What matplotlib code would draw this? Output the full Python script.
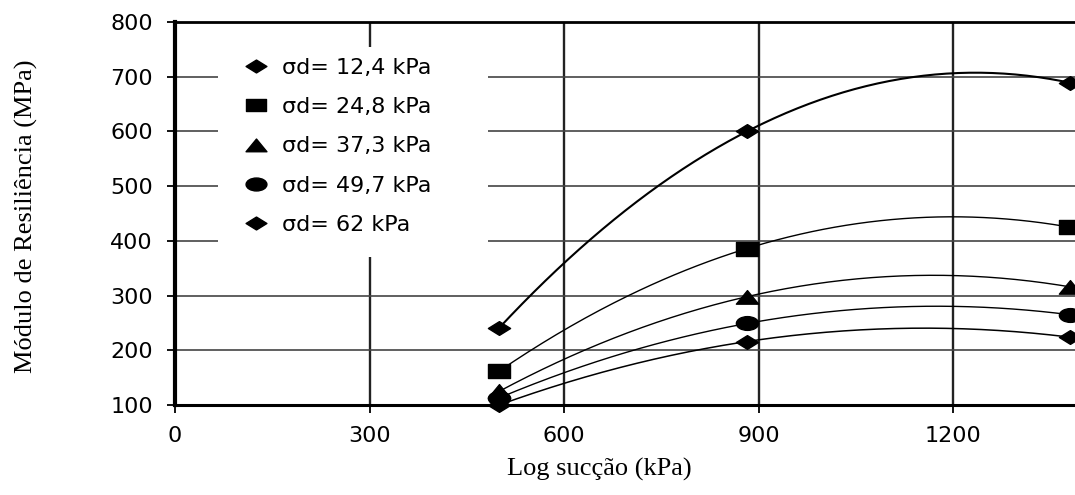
import matplotlib
matplotlib.use("Agg")
import matplotlib.pyplot as plt
import numpy as np
from matplotlib.lines import Line2D
from matplotlib.patches import Rectangle
from matplotlib.path import Path
from matplotlib.transforms import Affine2D

# Data
suction = [500, 882, 1380]
mr_12_4 = [241, 600, 689]
mr_24_8 = [162, 386, 425]
mr_37_3 = [125, 298, 316]
mr_49_7 = [113, 249, 265]
mr_62 = [100, 216, 224]
labels = ["σd= 12,4 kPa", "σd= 24,8 kPa", "σd= 37,3 kPa",
          "σd= 49,7 kPa", "σd= 62 kPa"]
x_ticks = [0, 300, 600, 900, 1200]
y_ticks = [100, 200, 300, 400, 500, 600, 700, 800]

plt.rcParams['font.family'] = ['DejaVu Sans']

# wide, flat marker shapes (the scan is stretched sideways)
diamond = Path([(-1, 0), (0, 0.62), (1, 0), (0, -0.62), (-1, 0)], closed=True)
square = Path([(-1, -0.6), (1, -0.6), (1, 0.6), (-1, 0.6), (-1, -0.6)], closed=True)
triangle = Path([(-1, -0.6), (1, -0.6), (0, 0.62), (-1, -0.6)], closed=True)
ellipse = Affine2D().scale(1, 0.62).transform_path(Path.unit_circle())

series = [mr_12_4, mr_24_8, mr_37_3, mr_49_7, mr_62]
markers = [diamond, square, triangle, ellipse, diamond]
widths = [1.5, 1.0, 1.0, 1.0, 1.1]

fig = plt.figure(figsize=(10.75, 4.95), dpi=100)
ax = fig.add_axes([175 / 1075, 90 / 495, 900 / 1075, 383 / 495])

# smoothed line through the three points of each series
xs = np.linspace(suction[0], suction[-1], 200)
for vals, mk, lw in zip(series, markers, widths):
    coef = np.polyfit(suction, vals, 2)
    ax.plot(xs, np.polyval(coef, xs), color='black', lw=lw, zorder=3)
    ax.plot(suction, vals, ls='none', marker=mk, ms=16, color='black',
            clip_on=False, zorder=4)

ax.set_xlim(0, 1388)
ax.set_ylim(100, 800)
ax.set_xticks(x_ticks)
ax.set_yticks(y_ticks)
ax.tick_params(axis='both', direction='out', length=6, width=1.3,
               labelsize=16, colors='black')
ax.tick_params(axis='x', pad=9)
ax.tick_params(axis='y', pad=10)

ax.set_axisbelow(True)
ax.grid(axis='x', color='#222222', lw=1.7)
ax.grid(axis='y', color='#444444', lw=1.2)

ax.spines['left'].set_linewidth(3)
ax.spines['bottom'].set_linewidth(2.2)
ax.spines['top'].set_linewidth(2)
ax.spines['right'].set_visible(False)

# white legend panel that hides the grid behind it
ax.add_patch(Rectangle((0.048, 0.386), 0.300, 0.549, transform=ax.transAxes,
                       facecolor='white', edgecolor='none', zorder=2))
handles = [Line2D([], [], ls='none', marker=mk, ms=15, color='black')
           for mk in markers]
ax.legend(handles, labels, loc='upper left', bbox_to_anchor=(0.078, 0.907),
          frameon=False, prop={'family': 'DejaVu Sans', 'size': 16},
          handlelength=1.0, handletextpad=0.65, labelspacing=0.87,
          borderpad=0, borderaxespad=0)

ax.set_xlabel('Log sucção (kPa)', family='Liberation Serif', fontsize=19)
ax.xaxis.set_label_coords(0.472, -0.138)
ax.set_ylabel('Módulo de Resiliência (MPa)', family='Liberation Serif',
              fontsize=19)
ax.yaxis.set_label_coords(-0.152, 0.493)

fig.savefig('out.png', dpi=100)
